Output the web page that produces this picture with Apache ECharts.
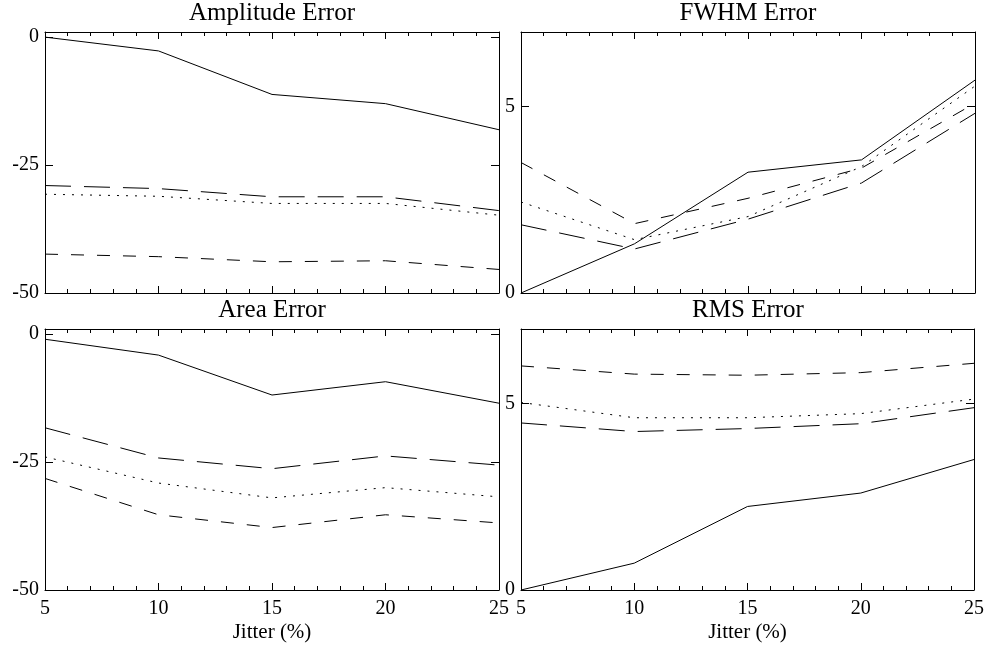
<!DOCTYPE html>
<html>
<head>
<meta charset="utf-8">
<script src="https://cdn.jsdelivr.net/npm/echarts@6/dist/echarts.min.js"></script>
<style>
  html, body { margin: 0; padding: 0; background: #fff; }
  #main { width: 987px; height: 647px; }
</style>
</head>
<body>
<div id="main"></div>
<script>
// jitter in percent (x axis)
var jitter = [5, 10, 15, 20, 25];

// Amplitude Error
var ampSolid    = [0.0, -2.7, -11.2, -13.0, -18.1];
var ampLongDash = [-29.0, -29.6, -31.2, -31.2, -33.9];
var ampDotted   = [-30.7, -31.1, -32.5, -32.5, -34.8];
var ampDashed   = [-42.4, -42.9, -43.9, -43.7, -45.4];

// FWHM Error
var fwhmSolid    = [0.0, 1.32, 3.24, 3.57, 5.71];
var fwhmLongDash = [1.83, 1.18, 1.98, 2.95, 4.82];
var fwhmDotted   = [2.44, 1.43, 2.05, 3.39, 5.55];
var fwhmDashed   = [3.50, 1.86, 2.54, 3.35, 5.09];

// Area Error
var areaSolid    = [-1.0, -4.1, -11.9, -9.3, -13.5];
var areaLongDash = [-18.3, -24.2, -26.3, -23.8, -25.6];
var areaDotted   = [-24.0, -29.1, -32.0, -30.0, -31.8];
var areaDashed   = [-28.2, -35.3, -37.8, -35.3, -36.9];

// RMS Error
var rmsSolid    = [0.0, 0.72, 2.24, 2.60, 3.50];
var rmsLongDash = [4.48, 4.25, 4.33, 4.46, 4.89];
var rmsDotted   = [5.03, 4.62, 4.62, 4.73, 5.12];
var rmsDashed   = [6.01, 5.79, 5.76, 5.83, 6.08];

var panelTitles = ['Amplitude Error', 'FWHM Error', 'Area Error', 'RMS Error'];
var xTicks = [5, 10, 15, 20, 25];
var xName = 'Jitter (%)';

var panelData = [
  [ampSolid, ampLongDash, ampDotted, ampDashed],
  [fwhmSolid, fwhmLongDash, fwhmDotted, fwhmDashed],
  [areaSolid, areaLongDash, areaDotted, areaDashed],
  [rmsSolid, rmsLongDash, rmsDotted, rmsDashed]
];
var yRanges = [
  {min: -50, max: 1, interval: 25},
  {min: 0, max: 7, interval: 5},
  {min: -50, max: 1, interval: 25},
  {min: 0, max: 7, interval: 5}
];

var font = 'Liberation Serif';
var dashTypes = ['solid', [26, 13], [2, 7], [13, 13]];
var grids = [
  {left: 45, top: 32, width: 454, height: 261},
  {left: 521, top: 32, width: 454, height: 261},
  {left: 45, top: 329, width: 454, height: 261},
  {left: 521, top: 329, width: 454, height: 261}
];
var titlePos = [[272, 13], [748, 13], [272, 310], [748, 310]];

var xAxes = [], yAxes = [], series = [], graphics = [];
var lineCol = '#000';

grids.forEach(function (g, i) {
  var bottomRow = i >= 2;
  // bottom x axis
  xAxes.push({
    type: 'value', gridIndex: i, position: 'bottom',
    min: xTicks[0], max: xTicks[xTicks.length - 1], interval: 5,
    axisLine: {show: true, onZero: false, lineStyle: {color: lineCol, width: 1}},
    axisTick: {show: true, inside: true, length: 7, lineStyle: {color: lineCol}},
    minorTick: {show: true, splitNumber: 5, length: 4, lineStyle: {color: lineCol}},
    splitLine: {show: false},
    axisLabel: {show: bottomRow, margin: 9, color: '#000', fontFamily: font, fontSize: 20},
    name: bottomRow ? xName : '',
    nameLocation: 'middle', nameGap: 32,
    nameTextStyle: {color: '#000', fontFamily: font, fontSize: 21}
  });
  // top x axis (box edge)
  xAxes.push({
    type: 'value', gridIndex: i, position: 'top',
    min: xTicks[0], max: xTicks[xTicks.length - 1], interval: 5,
    axisLine: {show: true, onZero: false, lineStyle: {color: lineCol, width: 1}},
    axisTick: {show: true, inside: true, length: 7, lineStyle: {color: lineCol}},
    minorTick: {show: true, splitNumber: 5, length: 4, lineStyle: {color: lineCol}},
    splitLine: {show: false},
    axisLabel: {show: false}
  });
  var yr = yRanges[i];
  yAxes.push({
    type: 'value', gridIndex: i, position: 'left',
    min: yr.min, max: yr.max, interval: yr.interval,
    axisLine: {show: true, onZero: false, lineStyle: {color: lineCol, width: 1}},
    axisTick: {show: true, inside: true, length: 8, lineStyle: {color: lineCol}},
    splitLine: {show: false},
    axisLabel: {show: true, margin: 6, showMaxLabel: false, color: '#000', fontFamily: font, fontSize: 20}
  });
  yAxes.push({
    type: 'value', gridIndex: i, position: 'right',
    min: yr.min, max: yr.max, interval: yr.interval,
    axisLine: {show: true, onZero: false, lineStyle: {color: lineCol, width: 1}},
    axisTick: {show: true, inside: true, length: 8, lineStyle: {color: lineCol}},
    splitLine: {show: false},
    axisLabel: {show: false}
  });

  panelData[i].forEach(function (vals, k) {
    series.push({
      type: 'line',
      xAxisIndex: 2 * i, yAxisIndex: 2 * i,
      data: jitter.map(function (x, j) { return [x, vals[j]]; }),
      showSymbol: false, symbol: 'none',
      lineStyle: {color: '#000', width: 1, type: dashTypes[k]},
      silent: true
    });
  });

  graphics.push({
    type: 'text', x: titlePos[i][0], y: titlePos[i][1],
    style: {
      text: panelTitles[i], fill: '#000',
      font: '25px "' + font + '"',
      align: 'center', verticalAlign: 'middle'
    }
  });
});

var myChart = echarts.init(document.getElementById('main'));
myChart.setOption({
  animation: false,
  backgroundColor: '#fff',
  grid: grids,
  xAxis: xAxes,
  yAxis: yAxes,
  series: series,
  graphic: graphics
});
</script>
</body>
</html>
